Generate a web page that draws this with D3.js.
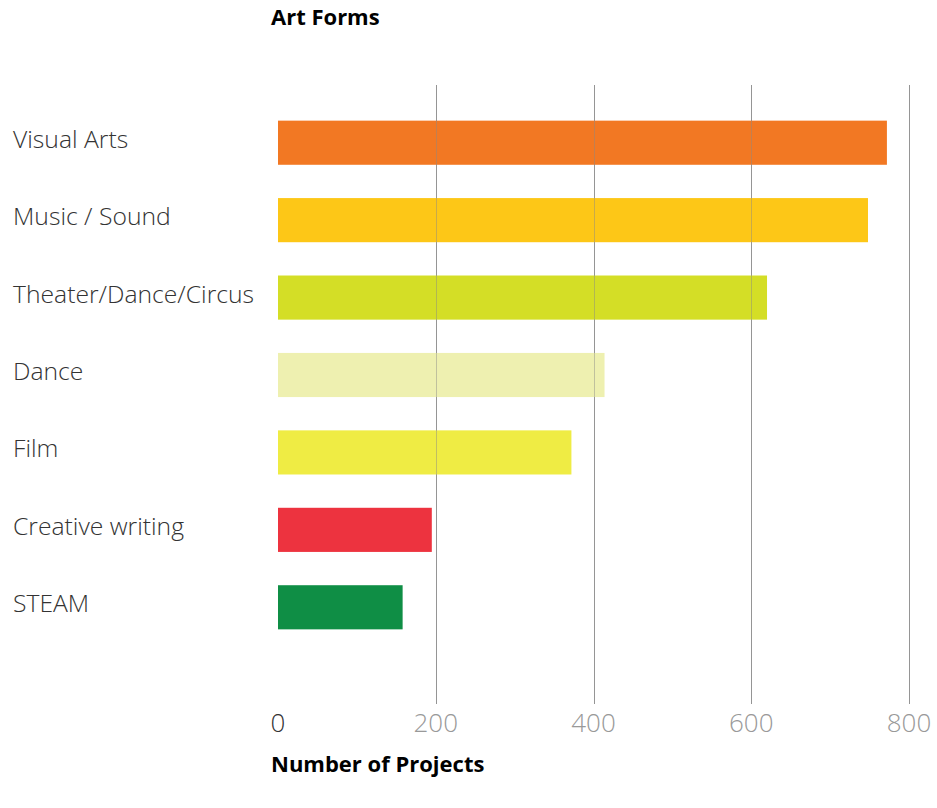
<!DOCTYPE html>
<html>
<head>
<meta charset="utf-8">
<script src="https://cdn.jsdelivr.net/npm/d3@7"></script>
<style>
  html, body { margin: 0; padding: 0; background: #fff; }
  svg { display: block; font-family: "Open Sans", sans-serif; }
</style>
</head>
<body>
<svg id="chart" width="937" height="808"></svg>
<script>
const categories = ["Visual Arts", "Music / Sound", "Theater/Dance/Circus", "Dance", "Film", "Creative writing", "STEAM"];
const values = [772, 748, 620, 414, 372, 195, 158];
const colors = ["#F27823", "#FDC717", "#D4DE26", "#EEF0B0", "#EFEC44", "#ED333F", "#0F8E45"];
const tickValues = [0, 200, 400, 600, 800];
const yTitle = "Art Forms";
const xTitle = "Number of Projects";

const svg = d3.select("#chart");

const x = d3.scaleLinear().domain([0, 800]).range([278, 909]);
const y = d3.scaleBand().domain(categories).range([104, 646]).paddingInner(0.43).paddingOuter(0.215);

// gridlines
svg.append("g").selectAll("line")
  .data(tickValues.filter(d => d > 0))
  .join("line")
  .attr("x1", d => Math.round(x(d)) + 0.5)
  .attr("x2", d => Math.round(x(d)) + 0.5)
  .attr("y1", 85).attr("y2", 704)
  .attr("stroke", "#a0a0a0").attr("stroke-width", 1);

// bars
svg.append("g").selectAll("rect")
  .data(categories)
  .join("rect")
  .attr("x", x(0))
  .attr("y", d => y(d))
  .attr("width", (d, i) => x(values[i]) - x(0))
  .attr("height", y.bandwidth())
  .attr("fill", (d, i) => colors[i]);

// gridlines faintly visible over bars, as in the reference
svg.append("g").selectAll("line")
  .data(tickValues.filter(d => d > 0))
  .join("line")
  .attr("x1", d => Math.round(x(d)) + 0.5)
  .attr("x2", d => Math.round(x(d)) + 0.5)
  .attr("y1", 85).attr("y2", 704)
  .attr("stroke", "#888").attr("stroke-opacity", 0.45).attr("stroke-width", 1);

// category labels
svg.append("g").selectAll("text")
  .data(categories)
  .join("text")
  .attr("x", 13)
  .attr("y", d => y(d) + y.bandwidth() / 2)
  .attr("dy", "0.2em")
  .attr("font-size", 24.7)
  .attr("font-weight", 300)
  .attr("fill", "#333")
  .text(d => d);

// x axis tick labels
svg.append("g").selectAll("text")
  .data(tickValues)
  .join("text")
  .attr("x", d => x(d))
  .attr("y", 732)
  .attr("text-anchor", "middle")
  .attr("font-size", 26)
  .attr("font-weight", 300)
  .attr("fill", d => d === 0 ? "#333" : "#999")
  .text(d => d);

// titles
svg.append("text")
  .attr("x", 271).attr("y", 25)
  .attr("font-size", 22).attr("font-weight", 700).attr("fill", "#000")
  .text(yTitle);

svg.append("text")
  .attr("x", 271).attr("y", 772)
  .attr("font-size", 22).attr("font-weight", 700).attr("fill", "#000")
  .text(xTitle);
</script>
</body>
</html>
